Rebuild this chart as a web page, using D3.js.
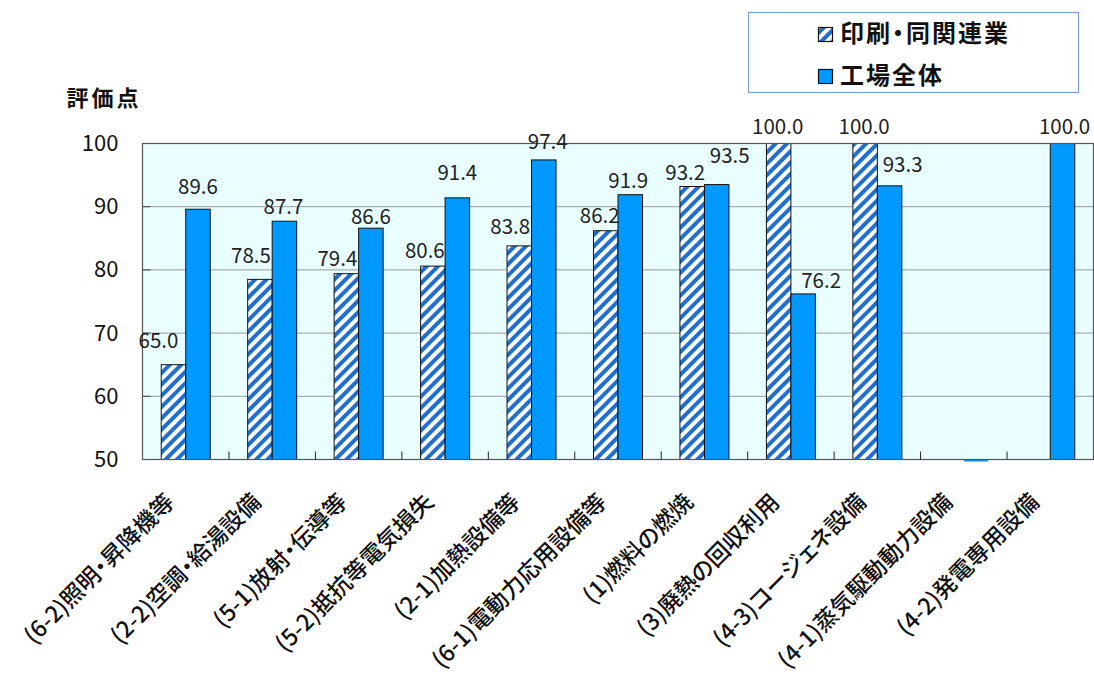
<!DOCTYPE html>
<html>
<head>
<meta charset="utf-8">
<script src="https://cdn.jsdelivr.net/npm/d3@7/dist/d3.min.js"></script>
<style>
  html, body { margin: 0; padding: 0; background: #ffffff; }
  svg { display: block; }
  text { font-family: "Noto Sans CJK JP", "Noto Sans", sans-serif; }
  .prop { font-feature-settings: "palt"; }
</style>
</head>
<body>
<svg id="chart" width="1094" height="693"></svg>
<script>
// Categories (equipment items) in display order
const categories = [
  "(6-2)照明・昇降機等",
  "(2-2)空調・給湯設備",
  "(5-1)放射・伝導等",
  "(5-2)抵抗等電気損失",
  "(2-1)加熱設備等",
  "(6-1)電動力応用設備等",
  "(1)燃料の燃焼",
  "(3)廃熱の回収利用",
  "(4-3)コージェネ設備",
  "(4-1)蒸気駆動動力設備",
  "(4-2)発電専用設備"
];

// Evaluation scores (null = no data)
const printingScores = [65.0, 78.5, 79.4, 80.6, 83.8, 86.2, 93.2, 100.0, 100.0, null, null];
const factoryScores  = [89.6, 87.7, 86.6, 91.4, 97.4, 91.9, 93.5, 76.2, 93.3, 0, 100.0];

const seriesNames = ["印刷・同関連業", "工場全体"];
const yTicks = [50, 60, 70, 80, 90, 100];
const yTitle = "評価点";

// hand-placed data label nudges: [horizontal shift, gap above bar top]
const printingLabelNudge = [[-15, 17], [-9, 16], [-9, 8], [-8, 8], [-9, 12], [-6, 8], [-7, 6], [-1, 10], [-1, 10], null, null];
const factoryLabelNudge  = [[0, 15], [-1, 7], [0, 4], [0, 18], [4, 11], [-2, 7], [13, 22], [18, 6], [13, 14], null, [2, 10]];

const svg = d3.select("#chart");
const plot = { left: 142.5, right: 1093.5, top: 143.5, bottom: 459.5 };

const defs = svg.append("defs");
const hatch = defs.append("pattern")
  .attr("id", "hatch")
  .attr("patternUnits", "userSpaceOnUse")
  .attr("width", 8).attr("height", 8)
  .attr("patternTransform", "rotate(45)");
hatch.append("rect").attr("width", 8).attr("height", 8).attr("fill", "#ffffff");
hatch.append("rect").attr("x", 0).attr("width", 4).attr("height", 8).attr("fill", "#1f6fd2");

const x = d3.scaleBand().domain(categories).range([plot.left, plot.right]).padding(0);
const y = d3.scaleLinear().domain([50, 100]).range([plot.bottom, plot.top]);
const barW = 24.5;
const fmt = d3.format(".1f");

// plot background
svg.append("rect")
  .attr("x", plot.left).attr("y", plot.top)
  .attr("width", plot.right - plot.left)
  .attr("height", plot.bottom - plot.top)
  .attr("fill", "#e9ffff");

// gridlines
svg.append("g")
  .selectAll("line")
  .data(yTicks.filter(t => t > 50 && t < 100))
  .join("line")
  .attr("x1", plot.left).attr("x2", plot.right)
  .attr("y1", d => y(d)).attr("y2", d => y(d))
  .attr("stroke", "#9a9a9a").attr("stroke-width", 1);

// y axis
const yAxis = d3.axisLeft(y).tickValues(yTicks).tickSize(0).tickPadding(24)
  .tickFormat(d3.format("d"));
const gy = svg.append("g").attr("transform", `translate(${plot.left},0)`).call(yAxis);
gy.select(".domain").remove();
gy.selectAll("text").attr("font-size", 22).attr("fill", "#111")
  .attr("font-family", "'Open Sans', 'Noto Sans', sans-serif");
// short inner tick marks on the left edge
svg.append("g").selectAll("line")
  .data(yTicks)
  .join("line")
  .attr("x1", plot.left).attr("x2", plot.left + 8)
  .attr("y1", d => y(d)).attr("y2", d => y(d))
  .attr("stroke", "#444").attr("stroke-width", 1);

svg.append("text")
  .attr("x", 104).attr("y", 106)
  .attr("text-anchor", "middle")
  .attr("font-size", 22).attr("font-weight", "bold").attr("fill", "#111")
  .attr("letter-spacing", 3)
  .text(yTitle);

// bars
const gBars = svg.append("g");
categories.forEach((c, i) => {
  const cx = x(c) + x.bandwidth() / 2;
  const p = printingScores[i];
  const f = factoryScores[i];
  if (p !== null) {
    gBars.append("rect")
      .attr("x", cx - barW).attr("y", y(p))
      .attr("width", barW).attr("height", y(50) - y(p))
      .attr("fill", "url(#hatch)").attr("stroke", "#111").attr("stroke-width", 1);
  }
  if (f !== null) {
    // values below the axis minimum show as a thin stub on the baseline
    const below = f < 50;
    gBars.append("rect")
      .attr("x", cx).attr("y", below ? y(50) : y(f))
      .attr("width", barW).attr("height", below ? 2 : y(50) - y(f))
      .attr("fill", "#0099ff").attr("stroke", "#111").attr("stroke-width", below ? 0 : 1);
  }
});

// plot frame
svg.append("rect")
  .attr("x", plot.left).attr("y", plot.top)
  .attr("width", plot.right - plot.left)
  .attr("height", plot.bottom - plot.top)
  .attr("fill", "none").attr("stroke", "#555").attr("stroke-width", 1.2);

// category boundary ticks on the bottom axis
svg.append("g").selectAll("line")
  .data(categories.slice(1))
  .join("line")
  .attr("x1", d => x(d)).attr("x2", d => x(d))
  .attr("y1", plot.bottom).attr("y2", plot.bottom - 8)
  .attr("stroke", "#222").attr("stroke-width", 1);

// value labels
const gLab = svg.append("g")
  .attr("font-family", "'Open Sans', 'Noto Sans', sans-serif")
  .attr("font-size", 20.5).attr("fill", "#222").attr("text-anchor", "middle");
categories.forEach((c, i) => {
  const cx = x(c) + x.bandwidth() / 2;
  const p = printingScores[i];
  const f = factoryScores[i];
  if (p !== null && printingLabelNudge[i]) {
    const [dx, gap] = printingLabelNudge[i];
    gLab.append("text").attr("x", cx - barW / 2 + dx).attr("y", y(p) - gap).text(fmt(p));
  }
  if (f !== null && f >= 50 && factoryLabelNudge[i]) {
    const [dx, gap] = factoryLabelNudge[i];
    gLab.append("text").attr("x", cx + barW / 2 + dx).attr("y", y(f) - gap).text(fmt(f));
  }
});

// rotated category labels
svg.append("g").selectAll("text")
  .data(categories)
  .join("text")
  .attr("class", "prop")
  .attr("transform", d => `translate(${x(d) + x.bandwidth() / 2 - 10},${plot.bottom + 44}) rotate(-45)`)
  .attr("text-anchor", "end")
  .attr("font-size", 23).attr("font-weight", 500).attr("fill", "#111")
  .text(d => d);

// legend
const lg = svg.append("g");
lg.append("rect").attr("x", 748.5).attr("y", 12.5).attr("width", 330).attr("height", 80)
  .attr("fill", "#ffffff").attr("stroke", "#7a9fd4").attr("stroke-width", 1.2);
const legendFills = ["url(#hatch)", "#0099ff"];
seriesNames.forEach((s, i) => {
  const top = 27.5 + i * 42;
  lg.append("rect").attr("x", 818.5).attr("y", top).attr("width", 14).attr("height", 14)
    .attr("fill", legendFills[i]).attr("stroke", "#111").attr("stroke-width", 1.2);
  lg.append("text").attr("class", "prop").attr("x", 840).attr("y", top + 14)
    .attr("font-size", 24).attr("font-weight", "bold").attr("fill", "#111")
    .attr("letter-spacing", 2)
    .text(s);
});
</script>
</body>
</html>
